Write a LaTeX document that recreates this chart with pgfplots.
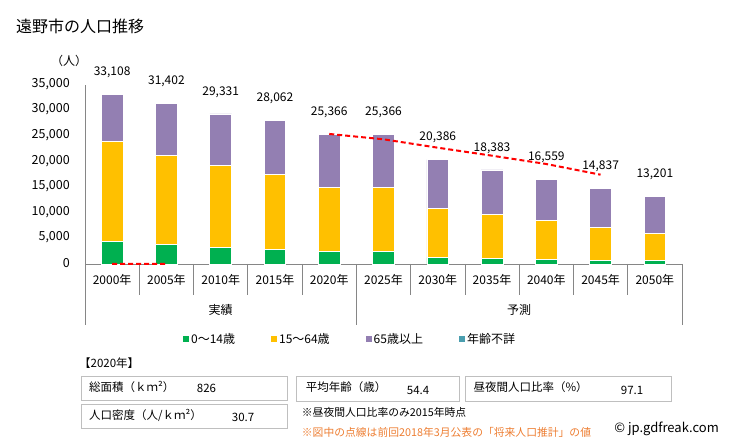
\documentclass[border=0pt]{standalone}
\usepackage{fontspec}
\setmainfont{Noto Sans CJK JP}
\usepackage{pgfplots}
\pgfplotsset{compat=1.18}
\usepackage{pgfplotstable}
\definecolor{cgreen}{HTML}{00B050}
\definecolor{cyellow}{HTML}{FFC000}
\definecolor{cpurple}{HTML}{937FB2}
\definecolor{cteal}{HTML}{4A9EAF}
\definecolor{caxis}{HTML}{868686}
\definecolor{cbox}{HTML}{BFBFBF}
\definecolor{corange}{HTML}{ED7D31}

\pgfplotstableread{
x g w o u tot
0 4360 19628 9120 0 33108
1 3850 17323 10229 0 31402
2 3190 16028 10113 0 29331
3 2800 14658 10604 0 28062
4 2405 12512 10449 0 25366
5 2405 12512 10449 0 25366
6 1230 9581 9575 0 20386
7 1040 8598 8745 0 18383
8 840 7703 8016 0 16559
9 720 6377 7740 0 14837
10 700 5224 7277 0 13201
}\bars

\pgfplotstableread{
x y
0 0
1 0
2 nan
3 nan
4 25430
5 24380
6 22740
7 21175
8 19550
9 17460
}\prev

\begin{document}
\begin{tikzpicture}[x=1pt,y=1pt]
\useasboundingbox (0,0) rectangle (730,446);
\fontsize{11.5}{13}\selectfont
\begin{axis}[
  at={(85pt,182pt)}, anchor=south west,
  width=597pt, height=179pt, scale only axis,
  ybar stacked, bar width=21.7pt,
  xmin=-0.5, xmax=10.5, ymin=0, ymax=35000,
  clip=false,
  axis lines*=left,
  axis line style={caxis, line width=0.8pt},
  major tick length=0pt,
  xtick={0,...,10},
  xticklabels={2000年,2005年,2010年,2015年,2020年,2025年,2030年,2035年,2040年,2045年,2050年},
  ytick={0,5000,...,35000},
  scaled y ticks=false,
  /pgf/number format/.cd, 1000 sep={,}, assume math mode=true,
  /pgfplots/.cd,
  xticklabel style={anchor=center, yshift=-16pt, font=\fontsize{12}{14}\selectfont},
  yticklabel style={anchor=east, inner sep=0pt, xshift=-15pt, yshift=1pt, font=\fontsize{12.5}{14}\selectfont},
  legend columns=4,
  legend style={at={(0.164,-0.419)}, anchor=west, draw=none, inner sep=0pt,
    font=\fontsize{12}{14}\selectfont,
    /tikz/every even column/.append style={column sep=34pt},
    /tikz/every odd column/.append style={column sep=0pt},
    cells={anchor=west, inner sep=1pt}},
  legend image code/.code={\path[#1, draw=none] (0pt,-3pt) rectangle (6pt,3pt);},
]
\addplot[fill=cgreen, draw=white, line width=0.8pt] table[x=x,y=g] {\bars};
\addplot[fill=cyellow, draw=white, line width=0.8pt] table[x=x,y=w] {\bars};
\addplot[fill=cpurple, draw=white, line width=0.8pt] table[x=x,y=o] {\bars};
\addplot[fill=cteal, draw=none] table[x=x,y=u] {\bars};
\legend{0〜14歳,15〜64歳,65歳以上,年齢不詳}
\pgfplotsinvokeforeach{0.5,1.5,2.5,3.5,5.5,6.5,7.5,8.5,9.5}{
  \draw[caxis, line width=0.8pt] (axis cs:#1,0) -- ++(0pt,-31pt);
}
\pgfplotsinvokeforeach{-0.5,4.5,10.5}{
  \draw[caxis, line width=0.8pt] (axis cs:#1,0) -- ++(0pt,-61pt);
}
\node[anchor=center, font=\fontsize{12}{14}\selectfont] at ([yshift=-46pt]axis cs:2,0) {実績};
\node[anchor=center, font=\fontsize{12}{14}\selectfont] at ([yshift=-46pt]axis cs:7.5,0) {予測};
\end{axis}
\begin{axis}[
  at={(85pt,182pt)}, anchor=south west,
  width=597pt, height=179pt, scale only axis,
  xmin=-0.5, xmax=10.5, ymin=0, ymax=35000,
  hide axis, clip=false,
  /pgf/number format/.cd, 1000 sep={,}, assume math mode=true,
  /pgfplots/.cd,
]
\addplot[red, line width=2pt, dash pattern=on 5pt off 3pt, unbounded coords=jump, mark=none] table[x=x,y=y] {\prev};
\addplot[draw=none, mark=none, nodes near coords, point meta=explicit,
  every node near coord/.append style={anchor=center, yshift=22pt, font=\fontsize{12}{14}\selectfont}]
  table[x=x,y=tot,meta=tot] {\bars};
\end{axis}
% title and notes
\node[anchor=west, inner sep=0pt, font=\fontsize{16}{18}\selectfont] at (16,419.3) {遠野市の人口推移};
\node[anchor=center, font=\fontsize{12}{14}\selectfont] at (69,385) {（人）};
\node[anchor=west, inner sep=0pt] at (79,83) {【2020年】};
\draw[cbox, line width=0.8pt] (81.7,70) rectangle (287.7,46);
\draw[cbox, line width=0.8pt] (296.7,70) rectangle (459.3,45);
\draw[cbox, line width=0.8pt] (465.7,70) rectangle (671.7,45);
\draw[cbox, line width=0.8pt] (81.7,41.7) rectangle (287.7,17.7);
\node[anchor=west, inner sep=0pt] at (89,59.3) {総面積（ｋｍ²）};
\node[anchor=west, inner sep=0pt] at (196.7,57.5) {826};
\node[anchor=west, inner sep=0pt] at (89,30.3) {人口密度（人/ｋｍ²）};
\node[anchor=west, inner sep=0pt] at (231.7,28.5) {30.7};
\node[anchor=west, inner sep=0pt] at (305.7,59.3) {平均年齢（歳）};
\node[anchor=west, inner sep=0pt] at (406.7,56) {54.4};
\node[anchor=west, inner sep=0pt] at (473.3,59.3) {昼夜間人口比率（\%）};
\node[anchor=west, inner sep=0pt] at (620.7,56) {97.1};
\node[anchor=west, inner sep=0pt, font=\fontsize{10.8}{12}\selectfont] at (301.7,33.7) {※昼夜間人口比率のみ2015年時点};
\node[anchor=west, inner sep=0pt, font=\fontsize{10.8}{12}\selectfont, text=corange] at (301.7,13.7) {※図中の点線は前回2018年3月公表の「将来人口推計」の値};
\node[anchor=east, inner sep=0pt, font=\fontsize{13}{15}\selectfont] at (719,16.7) {© jp.gdfreak.com};
\end{tikzpicture}
\end{document}
